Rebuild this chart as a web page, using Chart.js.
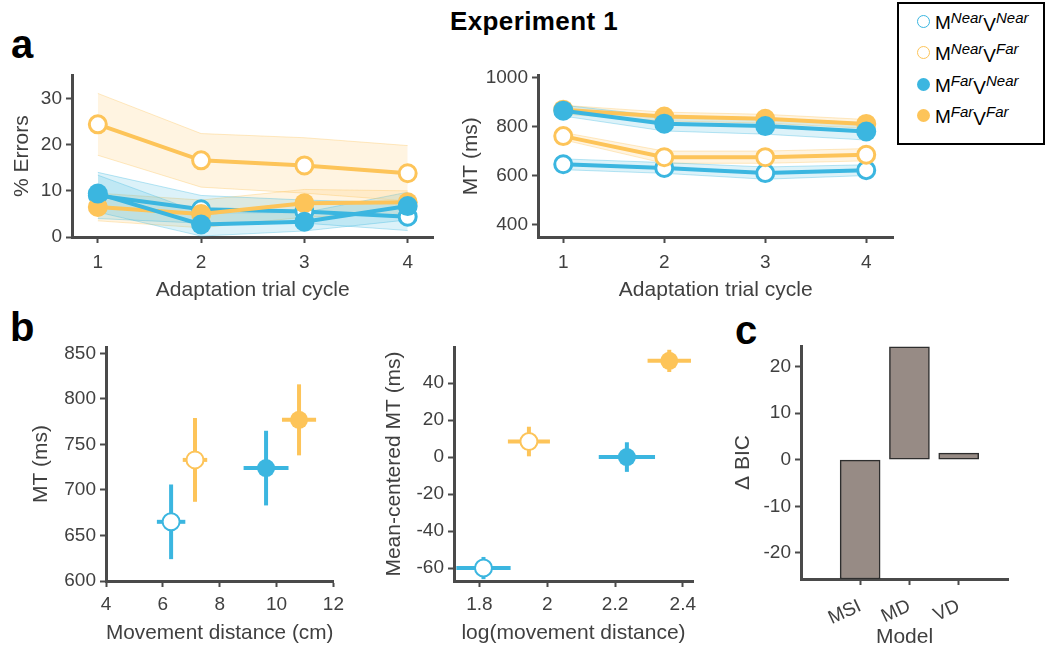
<!DOCTYPE html>
<html>
<head>
<meta charset="utf-8">
<script src="https://cdn.jsdelivr.net/npm/chart.js@4.4.1/dist/chart.umd.min.js"></script>
<style>
  html, body { margin: 0; padding: 0; background: #fff; }
  body { width: 1048px; height: 650px; position: relative; overflow: hidden;
         font-family: "Liberation Sans", Arial, sans-serif; }
  .box { position: absolute; }
  .panel { position: absolute; font-weight: bold; font-size: 40px; color: #000; line-height: 1; }
  #title { position: absolute; left: 534px; top: 6px; transform: translateX(-50%);
           font-weight: bold; font-size: 26px; letter-spacing: 0.4px; color: #000; }
  #legend { position: absolute; left: 897px; top: 2px; width: 144px; height: 139px;
            border: 2px solid #000; background: #fff; }
  .row { position: absolute; left: 0; height: 26px; display: flex; align-items: center; }
  .mk { width: 13px; height: 13px; border-radius: 50%; box-sizing: border-box; margin-left: 18px; margin-right: 5px; }
  .lbl { font-size: 19px; color: #000; white-space: nowrap; }
  .lbl sup { font-size: 15px; font-style: italic; vertical-align: 6px; }
  .lbl .v { position: relative; top: 2px; }
</style>
</head>
<body>
<div id="title">Experiment 1</div>
<div class="panel" style="left:11px; top:24px;">a</div>
<div class="panel" style="left:10px; top:307px;">b</div>
<div class="panel" style="left:735px; top:310px;">c</div>

<div class="box" style="left:0px; top:60px;"><canvas id="cErr" width="445" height="250"></canvas></div>
<div class="box" style="left:445px; top:60px;"><canvas id="cMT" width="460" height="250"></canvas></div>
<div class="box" style="left:0px; top:330px;"><canvas id="cDist" width="350" height="320"></canvas></div>
<div class="box" style="left:350px; top:330px;"><canvas id="cLog" width="360" height="320"></canvas></div>
<div class="box" style="left:710px; top:330px;"><canvas id="cBic" width="338" height="320"></canvas></div>
<div id="legend"></div>

<script>
// ---- data ----
const motorCond = ["Near", "Near", "Far", "Far"];
const visCond = ["Near", "Far", "Near", "Far"];

const cycles = [1, 2, 3, 4];

// % errors, mean and sem per cycle (order: NearNear, NearFar, FarNear, FarFar)
const errNN = [9.0, 6.0, 5.5, 4.4];
const errNNse = [5.0, 3.0, 2.5, 3.0];
const errNF = [24.4, 16.6, 15.5, 13.8];
const errNFse = [6.7, 5.8, 6.0, 6.0];
const errFN = [9.4, 2.7, 3.3, 6.7];
const errFNse = [4.0, 2.5, 2.0, 3.0];
const errFF = [6.5, 5.0, 7.3, 7.5];
const errFFse = [3.0, 3.0, 3.0, 2.5];

// movement time (ms)
const mtNN = [647, 632, 611, 623];
const mtNNse = [22, 22, 25, 22];
const mtNF = [762, 676, 676, 686];
const mtNFse = [15, 25, 25, 25];
const mtFN = [866, 813, 803, 781];
const mtFNse = [22, 30, 33, 35];
const mtFF = [870, 842, 833, 812];
const mtFFse = [18, 18, 18, 18];

// panel b left: distance (cm) vs MT
const distX = [6.29, 7.13, 9.63, 10.79];
const distXerr = [0.5, 0.43, 0.79, 0.6];
const distY = [665, 733, 724, 777];
const distYerr = [41, 46, 41, 39];

// panel b middle: log distance vs mean-centred MT
const logX = [1.812, 1.946, 2.235, 2.36];
const logXerr = [0.08, 0.062, 0.083, 0.064];
const logY = [-60, 8.4, 0, 52];
const logYerr = [6, 8, 8, 6];

// panel c
const models = ["MSI", "MD", "VD"];
const deltaBIC = [-25.6, 24.2, 1.4];

// ticks
const cycleTicks = [1, 2, 3, 4];
const errTicks = [0, 10, 20, 30];
const mtTicks = [400, 600, 800, 1000];
const distTicks = [4, 6, 8, 10, 12];
const distMtTicks = [600, 650, 700, 750, 800, 850];
const logTicks = [1.8, 2, 2.2, 2.4];
const centTicks = [-60, -40, -20, 0, 20, 40];
const bicTicks = [-20, -10, 0, 10, 20];

// ---- styles ----
const BLUE = "#3bb6e0";
const ORANGE = "#fdc459";
const condColor = [BLUE, ORANGE, BLUE, ORANGE];
const condOpen = [true, true, false, false];
const condOrder = [4, 3, 1, 2];
const AXIS = "#4a4a4a";
const TXT = "#404040";
const FONT = "'Liberation Sans', Arial, sans-serif";

Chart.defaults.font.family = FONT;
Chart.defaults.animation = false;

function hexA(hex, a) {
  const n = parseInt(hex.slice(1), 16);
  return "rgba(" + (n >> 16) + "," + ((n >> 8) & 255) + "," + (n & 255) + "," + a + ")";
}

function axis(o) {
  return {
    type: "linear",
    min: o.min,
    max: o.max,
    offset: false,
    border: { display: true, color: AXIS, width: 3 },
    grid: { display: true, offset: false, drawOnChartArea: false, drawTicks: true, tickLength: 6, tickWidth: 2, tickColor: AXIS },
    ticks: {
      color: TXT,
      font: { size: 19 },
      padding: o.tickPad,
      maxRotation: o.rot || 0,
      minRotation: o.rot || 0,
      callback: o.labels ? function (v) { return o.labels[Math.round(v) - 1]; } : function (v) { return String(+v.toFixed(2)); }
    },
    title: { display: true, text: o.title, color: TXT, font: { size: 21 }, padding: o.titlePad },
    afterBuildTicks: function (s) { s.ticks = o.ticks.map(function (v) { return { value: v }; }); },
    afterFit: function (s) { if (o.w) s.width = o.w; if (o.h) s.height = o.h; }
  };
}

function baseOptions(pad, scales) {
  return {
    responsive: false,
    devicePixelRatio: 1,
    animation: false,
    layout: { padding: pad },
    plugins: { legend: { display: false }, tooltip: { enabled: false } },
    scales: scales
  };
}

function pts(xs, ys) {
  return xs.map(function (x, i) { return { x: x, y: ys[i] }; });
}

function lineSets(means, ses) {
  const sets = [];
  for (let i = 0; i < means.length; i++) {
    const col = condColor[i];
    const lo = means[i].map(function (m, k) { return m - ses[i][k]; });
    const hi = means[i].map(function (m, k) { return m + ses[i][k]; });
    sets.push({
      type: "line", data: pts(cycles, lo), borderColor: hexA(col, 0.35), borderWidth: 1,
      pointRadius: 0, fill: false, order: 20 + i
    });
    sets.push({
      type: "line", data: pts(cycles, hi), borderColor: hexA(col, 0.35), borderWidth: 1,
      pointRadius: 0, fill: "-1", backgroundColor: hexA(col, 0.18), order: 20 + i
    });
  }
  for (let i = 0; i < means.length; i++) {
    const col = condColor[i];
    sets.push({
      type: "line", data: pts(cycles, means[i]), borderColor: col, borderWidth: 4,
      pointRadius: condOpen[i] ? 8.5 : 10, pointBorderWidth: condOpen[i] ? 3 : 0,
      pointBorderColor: col, pointBackgroundColor: condOpen[i] ? "#fff" : col,
      fill: false, order: condOrder[i], clip: false
    });
  }
  return sets;
}

function errorSets(xs, xe, ys, ye) {
  const sets = [];
  for (let i = 0; i < xs.length; i++) {
    const col = condColor[i];
    sets.push({ type: "line", data: [{ x: xs[i], y: ys[i] - ye[i] }, { x: xs[i], y: ys[i] + ye[i] }],
      borderColor: col, borderWidth: 4, pointRadius: 0, fill: false, order: 10, clip: false });
    sets.push({ type: "line", data: [{ x: xs[i] - xe[i], y: ys[i] }, { x: xs[i] + xe[i], y: ys[i] }],
      borderColor: col, borderWidth: 4, pointRadius: 0, fill: false, order: 10, clip: false });
  }
  for (let i = 0; i < xs.length; i++) {
    const col = condColor[i];
    sets.push({ type: "scatter", data: [{ x: xs[i], y: ys[i] }],
      pointRadius: condOpen[i] ? 8.5 : 9, pointBorderWidth: condOpen[i] ? 2 : 0,
      pointBorderColor: col, pointBackgroundColor: condOpen[i] ? "#fff" : col,
      order: condOrder[i], clip: false });
  }
  return sets;
}

// ---- panel a: % errors ----
new Chart(document.getElementById("cErr"), {
  type: "line",
  data: { datasets: lineSets([errNN, errNF, errFN, errFF], [errNNse, errNFse, errFNse, errFFse]) },
  options: baseOptions({ top: 12, right: 8, bottom: 0, left: 0 }, {
    x: axis({ min: 0.75, max: 4.25, ticks: cycleTicks, title: "Adaptation trial cycle", h: 73, tickPad: 8,
              titlePad: { top: 0, bottom: 7 } }),
    y: axis({ min: 0, max: 35, ticks: errTicks, title: "% Errors", w: 72, tickPad: 4,
              titlePad: { top: 10, bottom: 0 } })
  })
});

// ---- panel a: movement time ----
new Chart(document.getElementById("cMT"), {
  type: "line",
  data: { datasets: lineSets([mtNN, mtNF, mtFN, mtFF], [mtNNse, mtNFse, mtFNse, mtFFse]) },
  options: baseOptions({ top: 12, right: 5, bottom: 0, left: 0 }, {
    x: axis({ min: 0.75, max: 4.27, ticks: cycleTicks, title: "Adaptation trial cycle", h: 73, tickPad: 8,
              titlePad: { top: 0, bottom: 7 } }),
    y: axis({ min: 350, max: 1010, ticks: mtTicks, title: "MT (ms)", w: 93, tickPad: 4,
              titlePad: { top: 14, bottom: 0 } })
  })
});

// ---- panel b: distance ----
new Chart(document.getElementById("cDist"), {
  type: "line",
  data: { datasets: errorSets(distX, distXerr, distY, distYerr) },
  options: baseOptions({ top: 17, right: 11, bottom: 0, left: 0 }, {
    x: axis({ min: 4, max: 12, ticks: distTicks, title: "Movement distance (cm)", h: 69, tickPad: 6,
              titlePad: { top: 0, bottom: 4 } }),
    y: axis({ min: 600, max: 857, ticks: distMtTicks, title: "MT (ms)", w: 106, tickPad: 4,
              titlePad: { top: 29, bottom: 0 } })
  })
});

// ---- panel b: log distance ----
new Chart(document.getElementById("cLog"), {
  type: "line",
  data: { datasets: errorSets(logX, logXerr, logY, logYerr) },
  options: baseOptions({ top: 17, right: 17, bottom: 0, left: 0 }, {
    x: axis({ min: 1.725, max: 2.43, ticks: logTicks, title: "log(movement distance)", h: 69, tickPad: 6,
              titlePad: { top: 0, bottom: 4 } }),
    y: axis({ min: -67, max: 59.5, ticks: centTicks, title: "Mean-centered MT (ms)", w: 104, tickPad: 4,
              titlePad: { top: 32, bottom: 0 } })
  })
});

// ---- panel c: delta BIC ----
new Chart(document.getElementById("cBic"), {
  type: "bar",
  data: {
    datasets: [{
      data: pts([1, 2, 3], deltaBIC),
      backgroundColor: "#978b85",
      borderColor: "#2e2e2e",
      borderWidth: 1.5,
      borderSkipped: false,
      barThickness: 40
    }]
  },
  options: baseOptions({ top: 16, right: 40, bottom: 0, left: 0 }, {
    x: axis({ min: -0.2, max: 4, ticks: [1, 2, 3], labels: models, title: "Model", h: 71, tickPad: 10, rot: 25,
              titlePad: { top: 0, bottom: 0 } }),
    y: axis({ min: -25.6, max: 24.4, ticks: bicTicks, title: "\u0394 BIC", w: 91, tickPad: 4,
              titlePad: { top: 21, bottom: 0 } })
  })
});

// ---- legend ----
const legend = document.getElementById("legend");
const rowTops = [17, 48, 80, 111];
for (let i = 0; i < motorCond.length; i++) {
  const row = document.createElement("div");
  row.className = "row";
  row.style.top = (rowTops[i] - 13) + "px";
  const mk = document.createElement("span");
  mk.className = "mk";
  mk.style.border = condOpen[i] ? "1.5px solid " + condColor[i] : "none";
  mk.style.background = condOpen[i] ? "#fff" : condColor[i];
  const lbl = document.createElement("span");
  lbl.className = "lbl";
  lbl.innerHTML = "M<sup>" + motorCond[i] + "</sup><span class=\"v\">V</span><sup>" + visCond[i] + "</sup>";
  row.appendChild(mk);
  row.appendChild(lbl);
  legend.appendChild(row);
}
</script>
</body>
</html>
